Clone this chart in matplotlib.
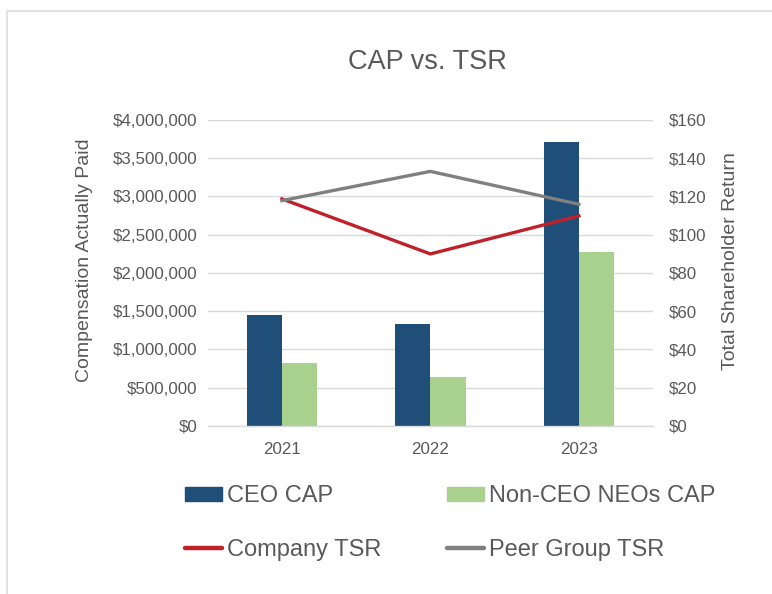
import matplotlib
matplotlib.use("Agg")
import matplotlib.pyplot as plt
from matplotlib.lines import Line2D
from matplotlib.patches import Patch, Rectangle
from matplotlib.ticker import FuncFormatter
import numpy as np

# data
years = ["2021", "2022", "2023"]
ceo_cap = [1452000, 1331000, 3712000]
neo_cap = [824000, 633000, 2277000]
company_tsr = [118.7, 89.9, 109.8]
peer_tsr = [117.8, 133.1, 115.9]

navy = "#1F4E79"
green = "#A9D18E"
red = "#C0202A"
grey = "#808080"
txt = "#595959"
grid = "#D9D9D9"

plt.rcParams["font.family"] = ["Liberation Sans", "DejaVu Sans"]

fig = plt.figure(figsize=(7.72, 5.94), dpi=100)
ax = fig.add_axes([0.269, 0.2833, 0.577, 0.5147])

x = np.arange(len(years))
w = 0.238
ax.bar(x - w / 2, ceo_cap, w, color=navy, zorder=2)
ax.bar(x + w / 2, neo_cap, w, color=green, zorder=2)
ax.set_xlim(-0.5, 2.5)
ax.set_ylim(0, 4000000)
ax.set_yticks(np.arange(0, 4000001, 500000))
ax.yaxis.set_major_formatter(FuncFormatter(lambda v, p: "${:,.0f}".format(v)))
ax.set_xticks(x)
ax.set_xticklabels(years)
ax.grid(axis="y", color=grid, lw=1.0, zorder=0)
ax.set_axisbelow(True)
for s in ["top", "left", "right"]:
    ax.spines[s].set_visible(False)
ax.spines["bottom"].set_color(grid)
ax.spines["bottom"].set_linewidth(1.0)
ax.tick_params(axis="both", length=0, labelsize=12.2, labelcolor=txt)
ax.tick_params(axis="y", pad=7.5)
ax.tick_params(axis="x", pad=11.5)
ax.set_ylabel("Compensation Actually Paid", fontsize=14, color=txt)
ax.yaxis.set_label_coords(-0.2576, 0.54)

ax2 = ax.twinx()
ax2.plot(x, company_tsr, color=red, lw=2.4, zorder=3)
ax2.plot(x, peer_tsr, color=grey, lw=2.4, zorder=3)
ax2.set_ylim(0, 160)
ax2.set_yticks(np.arange(0, 161, 20))
ax2.yaxis.set_major_formatter(FuncFormatter(lambda v, p: "${:.0f}".format(v)))
for s in ax2.spines.values():
    s.set_visible(False)
ax2.tick_params(axis="y", length=0, labelsize=12.2, labelcolor=txt, pad=11.5)
ax2.set_ylabel("Total Shareholder Return", fontsize=14, color=txt)
ax2.yaxis.set_label_coords(1.155, 0.54)

fig.text(0.554, 1 - 62 / 594, "CAP vs. TSR", fontsize=19.5, color=txt,
         ha="center", va="center")

handles = [
    Patch(color=navy),
    Line2D([], [], color=red, lw=3.2, solid_capstyle="round"),
    Patch(color=green),
    Line2D([], [], color=grey, lw=3.2, solid_capstyle="round"),
]
labels = ["CEO CAP", "Company TSR", "Non-CEO NEOs CAP", "Peer Group TSR"]
fig.legend(handles, labels, ncol=2, loc="upper left",
           bbox_to_anchor=(185 / 772, 1 - 485 / 594), frameon=False,
           fontsize=17, labelcolor=txt, borderpad=0, borderaxespad=0,
           handlelength=1.57, handleheight=0.55, handletextpad=0.2,
           columnspacing=2.78, labelspacing=1.35)

fig.patches.append(Rectangle((7 / 772, -0.1), 1.2, 1.1 - 10.5 / 594,
                             transform=fig.transFigure, fill=False,
                             edgecolor=grid, lw=1.1))

fig.savefig("out.png", dpi=100)
